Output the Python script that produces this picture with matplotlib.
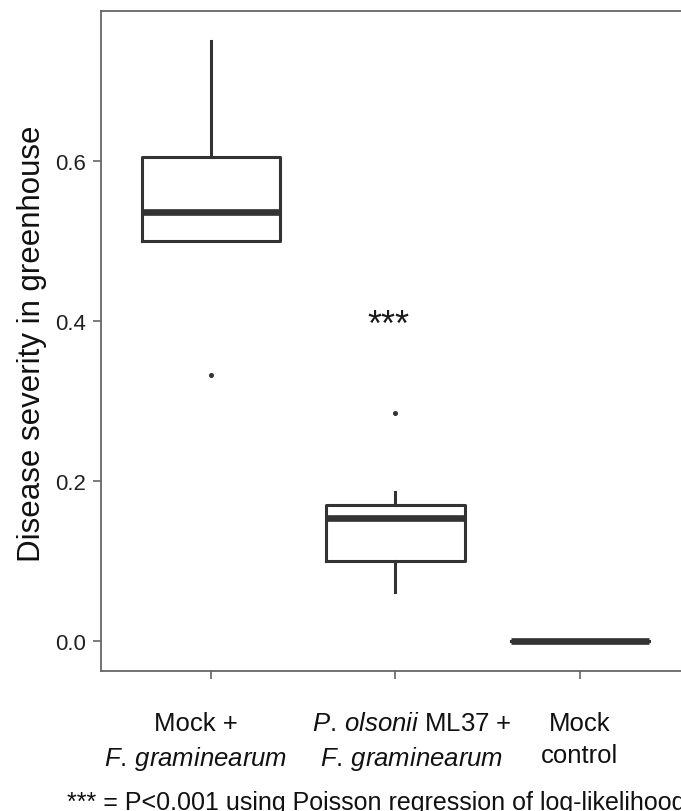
import matplotlib
matplotlib.use('Agg')
import matplotlib.pyplot as plt
from matplotlib.transforms import ScaledTranslation

plt.rcParams['font.family'] = ['Liberation Sans', 'DejaVu Sans']
plt.rcParams['mathtext.fontset'] = 'custom'
plt.rcParams['mathtext.rm'] = 'Liberation Sans'
plt.rcParams['mathtext.it'] = 'Liberation Sans:italic'

# ---- data ----
categories = ["Mock +\n$\\it{F.\\,graminearum}$",
              "$\\it{P.\\,olsonii}$ ML37 +\n$\\it{F.\\,graminearum}$",
              "Mock\ncontrol"]
whisker_low = [0.4996, 0.0617, 0.0]
q1 = [0.4996, 0.1004, 0.0]
median = [0.5366, 0.1537, 0.0]
q3 = [0.6046, 0.1704, 0.0]
whisker_high = [0.7504, 0.1858, 0.0]
outliers = [[0.333], [0.285], []]
significance = ["", "***", ""]
significance_y = [0.0, 0.382, 0.0]
yticks = [0.0, 0.2, 0.4, 0.6]
ytick_labels = ["0.0", "0.2", "0.4", "0.6"]
ylabel = "Disease severity in greenhouse"
caption = "*** = P<0.001 using Poisson regression of log-likelihood"

W, H = 681, 812
fig = plt.figure(figsize=(W / 100, H / 100), dpi=100)
ax = fig.add_axes([101 / W, (H - 672) / H, (690 - 101) / W, 660 / H])

dark = '#333333'
stats = []
for i in range(len(categories)):
    stats.append(dict(med=median[i], q1=q1[i], q3=q3[i],
                      whislo=whisker_low[i], whishi=whisker_high[i],
                      fliers=outliers[i], label=categories[i]))
positions = list(range(1, len(categories) + 1))
ax.bxp(stats, positions=positions, widths=0.75, showcaps=False,
       boxprops=dict(color=dark, linewidth=2.2),
       whiskerprops=dict(color=dark, linewidth=2.2),
       medianprops=dict(color=dark, linewidth=4.8, solid_capstyle='butt'),
       flierprops=dict(marker='o', markersize=2.6, markerfacecolor=dark,
                       markeredgecolor=dark))

for p, s, y in zip(positions, significance, significance_y):
    if s:
        ax.annotate(s, xy=(p, y), xytext=(-5, 0), textcoords='offset points',
                    ha='center', va='baseline', fontsize=26, color='#1a1a1a')

ax.set_xlim(0.4, 3.6)
ax.set_ylim(-0.0375, 0.7875)
ax.set_yticks(yticks)
ax.set_yticklabels(ytick_labels)
ax.set_xticks(positions)
ax.set_xticklabels(categories, linespacing=1.45)

spine_c = '#666666'
for sp in ax.spines.values():
    sp.set_color(spine_c)
    sp.set_linewidth(1.3)
ax.tick_params(axis='both', length=5.5, width=1.2, color=spine_c)
ax.tick_params(axis='y', labelsize=16, pad=5.5, labelcolor='#222222')
ax.tick_params(axis='x', labelsize=18.5, pad=23, labelcolor='#111111')

shifts = [-16, 16, 0]
for lab, dx in zip(ax.get_xticklabels(), shifts):
    lab.set_transform(lab.get_transform() + ScaledTranslation(dx / 100, 0, fig.dpi_scale_trans))

fig.text(32 / W, 1 - 344 / H, ylabel, rotation=90, ha='center', va='center',
         fontsize=22.5, color='#111111')
fig.text(67 / W, 1 - 810 / H, caption, ha='left', va='baseline', fontsize=18,
         color='#111111')

fig.savefig('out.png', dpi=100)
